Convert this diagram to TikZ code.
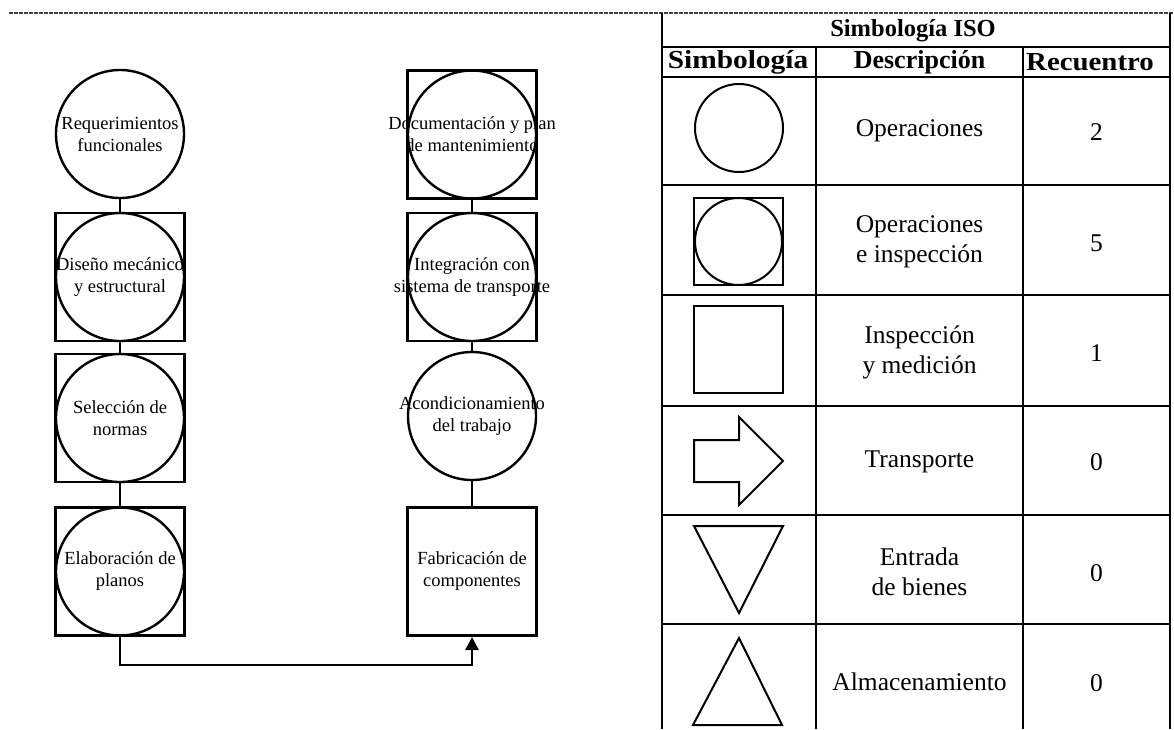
\documentclass[tikz,border=0pt]{standalone}
\usepackage{fontspec}
\setmainfont{Liberation Serif}
\usetikzlibrary{arrows.meta}
\begin{document}
\begin{tikzpicture}[x=1pt,y=-1pt,
  op/.style={circle, draw, line width=2.4pt, minimum size=128pt, inner sep=0pt},
  sq/.style={rectangle, draw, line width=2.4pt, minimum width=129pt, minimum height=128pt, inner sep=0pt},
  lbl/.style={align=center, font=\fontsize{18.5}{22}\selectfont, inner sep=0pt},
  conn/.style={line width=2.4pt},
  tline/.style={line width=2pt},
  sym/.style={line width=2pt, line join=miter},
  thead/.style={font=\fontsize{26}{30}\bfseries\selectfont, inner sep=0pt},
  tbody/.style={align=center, font=\fontsize{25.5}{30}\selectfont, inner sep=0pt},
]
\useasboundingbox (0,0) rectangle (1174,729);

% top dashed line
\draw[black!75, line width=1.3pt, dash pattern=on 3.5pt off 1.5pt] (9,13) -- (1174,13);

% ---------- left column ----------
\node[op] (c1) at (120,134) {};
\node[lbl] (t1) at (c1.center) {Requerimientos\\funcionales};

\node[sq] (s2) at (120,277) {};
\node[op] (c2) at (120,277) {};
\node[lbl] (t2) at (c2.center) {Diseño mecánico\\y estructural};

\node[sq] (s3) at (120,418) {};
\node[op] (c3) at (120,418) {};
\node[lbl] (t3) at (c3.center) {Selección de\\normas};

\node[sq] (s4) at (120,571.5) {};
\node[op] (c4) at (120,571.5) {};
\node[lbl] (t4) at (c4.center) {Elaboración de\\planos};

% ---------- right column ----------
\node[sq] (r1) at (472,134.5) {};
\node[op] (rc1) at (472,134.5) {};
\node[lbl] (rt1) at (rc1.center) {Documentación y plan\\de mantenimiento};

\node[sq] (r2) at (472,277) {};
\node[op] (rc2) at (472,277) {};
\node[lbl] (rt2) at (rc2.center) {Integración con\\sistema de transporte};

\node[op] (rc3) at (472,416) {};
\node[lbl] (rt3) at (rc3.center) {Acondicionamiento\\del trabajo};

\node[sq, line width=3pt] (r4) at (472,571.5) {};
\node[lbl] (rt4) at (r4.center) {Fabricación de\\componentes};

% connectors
\draw[conn] (c1.south) -- (s2.north);
\draw[conn] (s2.south) -- (s3.north);
\draw[conn] (s3.south) -- (s4.north);
\draw[conn] (r1.south) -- (r2.north);
\draw[conn] (r2.south) -- (rc3.north);
\draw[conn] (rc3.south) -- (r4.north);
\draw[conn, -{Triangle[length=13pt,width=13pt]}] (s4.south) -- ++(0,28) -| (r4.south);

% ---------- table ----------
\draw[tline] (662,12.5) -- (662,729);
\draw[tline] (1170,12.5) -- (1170,729);
\foreach \yy in {47,77,185,295,406,515,624}
  \draw[tline] (662,\yy) -- (1170,\yy);
\draw[tline] (816,47) -- (816,729);
\draw[tline] (1023,47) -- (1023,729);

\node[thead, font=\fontsize{24.5}{28}\bfseries\selectfont] (h0) at (913,31) {Simbología ISO};
\node[thead] (h1) at (738,62.5) {\scalebox{1.13}[1]{Simbología}};
\node[thead] (h2) at (919.5,62.5) {Descripción};
\node[thead] (h3) at (1090,62.5) {\scalebox{1.11}[1]{Recuentro}};

% symbols
\draw[sym] (739,128) circle (44);
\draw[sym] (694,198) rectangle (783,285);
\draw[sym] (738.5,241.5) circle (43.5);
\draw[sym] (694,306) rectangle (783,393);
\draw[sym] (694,440) -- (739,440) -- (739,417) -- (783,461) -- (739,505) -- (739,482) -- (694,482) -- cycle;
\draw[sym] (694,526) -- (783,526) -- (739,613) -- cycle;
\draw[sym] (739,638) -- (782,725) -- (693,725) -- cycle;

% descriptions
\node[tbody] (d1) at (919.5,131) {Operaciones};
\node[tbody] (d2) at (919.5,242) {Operaciones\\e inspección};
\node[tbody] (d3) at (919.5,352) {Inspección\\y medición};
\node[tbody] (d4) at (919.5,462) {Transporte};
\node[tbody] (d5) at (919.5,572) {Entrada\\de bienes};
\node[tbody] (d6) at (919.5,682) {Almacenamiento};

% counts
\node[tbody] (n1) at (1096.5,132) {2};
\node[tbody] (n2) at (1096.5,243) {5};
\node[tbody] (n3) at (1096.5,353) {1};
\node[tbody] (n4) at (1096.5,462) {0};
\node[tbody] (n5) at (1096.5,573) {0};
\node[tbody] (n6) at (1096.5,683) {0};
\end{tikzpicture}
\end{document}
